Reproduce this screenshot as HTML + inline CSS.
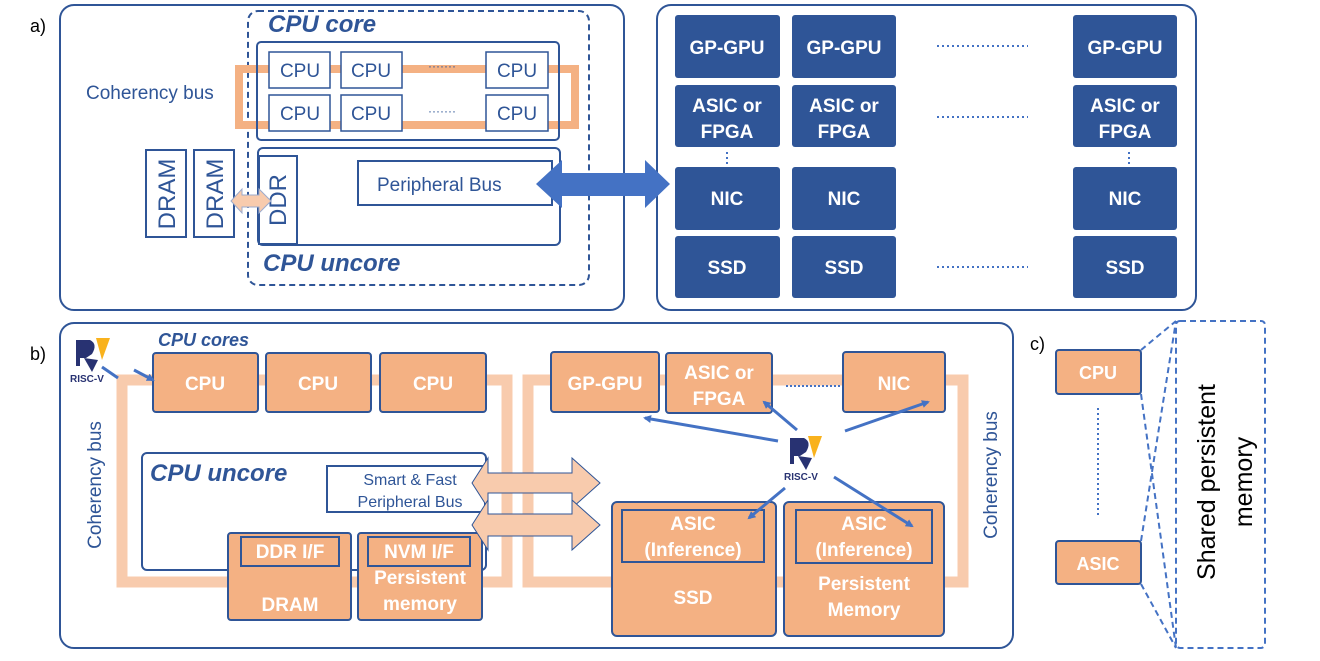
<!DOCTYPE html>
<html><head><meta charset="utf-8"><style>
html,body{margin:0;padding:0;background:#fff;}
svg{display:block;font-family:"Liberation Sans",sans-serif;}
</style></head><body>
<svg width="1320" height="661" viewBox="0 0 1320 661" xmlns="http://www.w3.org/2000/svg">
<defs>
<marker id="ah" markerWidth="8" markerHeight="8" refX="6" refY="4" orient="auto" markerUnits="userSpaceOnUse" viewBox="0 0 8 8"><path d="M0,0 L8,4 L0,8 Z" fill="#4472c4"/></marker>
</defs>
<g fill="none" stroke="#2f5597" stroke-width="2">
<!-- panel a -->
<rect x="60" y="5" width="564" height="305" rx="14"/>
<rect x="657" y="5" width="539" height="305" rx="14"/>
<rect x="248" y="11" width="341" height="274" rx="10" stroke-dasharray="6,4"/>
</g>
<text x="30" y="32" font-size="18" fill="#000">a)</text>
<text x="30" y="360" font-size="18" fill="#000">b)</text>
<text x="1030" y="350" font-size="18" fill="#000">c)</text>
<text x="268" y="32" font-size="24" font-weight="bold" font-style="italic" fill="#2f5597">CPU core</text>
<text x="263" y="271" font-size="24" font-weight="bold" font-style="italic" fill="#2f5597">CPU uncore</text>
<!-- coherency bus a -->
<rect x="239" y="69" width="336" height="56" fill="none" stroke="#f4b183" stroke-width="8"/>
<rect x="257" y="42" width="302" height="98" rx="4" fill="none" stroke="#2f5597" stroke-width="2"/>
<text x="86" y="99" font-size="19" fill="#2f5597">Coherency bus</text>
<g fill="#fff" stroke="#2f5597" stroke-width="1.5">
<rect x="269" y="52" width="61" height="36"/><rect x="341" y="52" width="61" height="36"/><rect x="486" y="52" width="62" height="36"/>
<rect x="269" y="95" width="61" height="36"/><rect x="341" y="95" width="61" height="36"/><rect x="486" y="95" width="62" height="36"/>
</g>
<g font-size="19" fill="#2f5597" text-anchor="middle">
<text x="300" y="77">CPU</text><text x="371" y="77">CPU</text><text x="517" y="77">CPU</text>
<text x="300" y="120">CPU</text><text x="371" y="120">CPU</text><text x="517" y="120">CPU</text>
<text x="442" y="70" font-size="12">·······</text><text x="442" y="115" font-size="12">·······</text>
</g>
<rect x="258" y="148" width="302" height="97" rx="5" fill="none" stroke="#2f5597" stroke-width="2"/>
<rect x="259" y="156" width="38" height="88" fill="#fff" stroke="#2f5597" stroke-width="2"/>
<rect x="146" y="150" width="40" height="87" fill="#fff" stroke="#2f5597" stroke-width="2"/>
<rect x="194" y="150" width="40" height="87" fill="#fff" stroke="#2f5597" stroke-width="2"/>
<g font-size="24" fill="#2f5597" text-anchor="middle">
<text transform="translate(175,194) rotate(-90)">DRAM</text>
<text transform="translate(223,194) rotate(-90)">DRAM</text>
<text transform="translate(286,200) rotate(-90)">DDR</text>
</g>
<rect x="358" y="161" width="194" height="44" fill="#fff" stroke="#2f5597" stroke-width="2"/>
<text x="377" y="191" font-size="19" fill="#2f5597">Peripheral Bus</text>
<path d="M231,201 L242,189 L242,195 L259,195 L259,189 L271,201 L259,213 L259,207 L242,207 L242,213 Z" fill="#f8cbad" stroke="#9dabcc" stroke-width="1"/>
<path d="M536,184 L562,160 L562,173 L645,173 L645,160 L670,184 L645,208 L645,196 L562,196 L562,208 Z" fill="#4472c4"/>
<!-- panel a right grid -->
<g fill="#2f5597">
<rect x="675" y="15" width="105" height="63" rx="3"/><rect x="792" y="15" width="104" height="63" rx="3"/><rect x="1073" y="15" width="104" height="63" rx="3"/>
<rect x="675" y="85" width="105" height="62" rx="3"/><rect x="792" y="85" width="104" height="62" rx="3"/><rect x="1073" y="85" width="104" height="62" rx="3"/>
<rect x="675" y="167" width="105" height="63" rx="3"/><rect x="792" y="167" width="104" height="63" rx="3"/><rect x="1073" y="167" width="104" height="63" rx="3"/>
<rect x="675" y="236" width="105" height="62" rx="3"/><rect x="792" y="236" width="104" height="62" rx="3"/><rect x="1073" y="236" width="104" height="62" rx="3"/>
</g>
<g font-size="19" font-weight="bold" fill="#fff" text-anchor="middle">
<text x="727" y="54">GP-GPU</text><text x="844" y="54">GP-GPU</text><text x="1125" y="54">GP-GPU</text>
<text x="727" y="112">ASIC or</text><text x="844" y="112">ASIC or</text><text x="1125" y="112">ASIC or</text>
<text x="727" y="138">FPGA</text><text x="844" y="138">FPGA</text><text x="1125" y="138">FPGA</text>
<text x="727" y="205">NIC</text><text x="844" y="205">NIC</text><text x="1125" y="205">NIC</text>
<text x="727" y="274">SSD</text><text x="844" y="274">SSD</text><text x="1125" y="274">SSD</text>
</g>
<g stroke="#4472c4" stroke-width="2" stroke-dasharray="2,3">
<line x1="937" y1="46" x2="1028" y2="46"/><line x1="937" y1="117" x2="1028" y2="117"/><line x1="937" y1="267" x2="1028" y2="267"/>
<line x1="727" y1="152" x2="727" y2="164"/><line x1="1129" y1="152" x2="1129" y2="164"/>
</g>
<!-- panel b -->
<rect x="60" y="323" width="953" height="325" rx="14" fill="none" stroke="#2f5597" stroke-width="2"/>
<rect x="122" y="380" width="385" height="202" fill="none" stroke="#f8cbad" stroke-width="11"/>
<rect x="528" y="380" width="435" height="202" fill="none" stroke="#f8cbad" stroke-width="11"/>
<text x="158" y="346" font-size="18" font-weight="bold" font-style="italic" fill="#2f5597">CPU cores</text>
<g fill="#f4b183" stroke="#2f5597" stroke-width="2">
<rect x="153" y="353" width="105" height="59" rx="3"/><rect x="266" y="353" width="105" height="59" rx="3"/><rect x="380" y="353" width="106" height="59" rx="3"/>
</g>
<rect x="142" y="453" width="344" height="117" rx="5" fill="#fff" stroke="#2f5597" stroke-width="2"/>
<text x="150" y="481" font-size="24" font-weight="bold" font-style="italic" fill="#2f5597">CPU uncore</text>
<rect x="327" y="466" width="158" height="46" fill="#fff" stroke="#2f5597" stroke-width="2"/>
<text x="410" y="485" font-size="16" fill="#2f5597" text-anchor="middle">Smart &amp; Fast</text>
<text x="410" y="507" font-size="16" fill="#2f5597" text-anchor="middle">Peripheral Bus</text>
<g fill="#f4b183" stroke="#2f5597" stroke-width="2">
<rect x="228" y="533" width="123" height="87" rx="3"/><rect x="358" y="533" width="124" height="87" rx="3"/>
<rect x="241" y="537" width="98" height="29"/><rect x="368" y="537" width="102" height="29"/>
<rect x="551" y="352" width="108" height="60" rx="3"/><rect x="666" y="353" width="106" height="60" rx="3"/><rect x="843" y="352" width="102" height="60" rx="3"/>
<rect x="612" y="502" width="164" height="134" rx="5"/><rect x="784" y="502" width="160" height="134" rx="5"/>
<rect x="622" y="510" width="142" height="52"/><rect x="796" y="510" width="136" height="53"/>
</g>
<path d="M472,483 L488,458 L488,473 L572,473 L572,458 L600,483 L572,508 L572,493 L488,493 L488,508 Z" fill="#f8cbad" stroke="#2f5597" stroke-width="1"/>
<path d="M472,525 L488,500 L488,514 L572,514 L572,500 L600,525 L572,550 L572,536 L488,536 L488,550 Z" fill="#f8cbad" stroke="#2f5597" stroke-width="1"/>
<g font-size="19" font-weight="bold" fill="#fff" text-anchor="middle">
<text x="205" y="390">CPU</text><text x="318" y="390">CPU</text><text x="433" y="390">CPU</text>
<text x="290" y="558">DDR I/F</text><text x="419" y="558">NVM I/F</text>
<text x="290" y="611">DRAM</text>
<text x="420" y="584">Persistent</text><text x="420" y="610">memory</text>
<text x="605" y="390">GP-GPU</text><text x="719" y="379">ASIC or</text><text x="719" y="405">FPGA</text><text x="894" y="390">NIC</text>
<text x="693" y="530">ASIC</text><text x="693" y="556">(Inference)</text><text x="693" y="604">SSD</text>
<text x="864" y="530">ASIC</text><text x="864" y="556">(Inference)</text>
<text x="864" y="590">Persistent</text><text x="864" y="616">Memory</text>
</g>
<line x1="786" y1="386" x2="840" y2="386" stroke="#4472c4" stroke-width="2" stroke-dasharray="2,2"/>
<g font-size="19" fill="#2f5597" text-anchor="middle">
<text transform="translate(101,485) rotate(-90)">Coherency bus</text>
<text transform="translate(997,475) rotate(-90)">Coherency bus</text>
</g>
<!-- RISC-V logos -->
<g>
<path d="M76,340 L90,340 Q98,344 92,354 L86,358 L80,358 L80,366 L76,366 Z" fill="#283272"/>
<path d="M96,338 L110,338 L102,360 Z" fill="#f9b21d"/>
<path d="M84,358 L92,372 L98,360 Z" fill="#283272"/>
<text x="70" y="382" font-size="10" font-weight="bold" fill="#283272">RISC-V</text>
</g>
<g>
<path d="M790,438 L804,438 Q812,442 806,452 L800,456 L794,456 L794,464 L790,464 Z" fill="#283272"/>
<path d="M808,436 L822,436 L814,458 Z" fill="#f9b21d"/>
<path d="M798,456 L806,470 L812,458 Z" fill="#283272"/>
<text x="784" y="480" font-size="10" font-weight="bold" fill="#283272">RISC-V</text>
</g>
<g stroke="#4472c4" stroke-width="3" marker-end="url(#ah)">
<line x1="102" y1="367" x2="118" y2="378" marker-end="none"/>
<line x1="134" y1="370" x2="153" y2="380"/>
<line x1="778" y1="441" x2="645" y2="418"/>
<line x1="797" y1="430" x2="764" y2="402"/>
<line x1="845" y1="431" x2="928" y2="402"/>
<line x1="785" y1="488" x2="749" y2="518"/>
<line x1="834" y1="477" x2="912" y2="526"/>
</g>
<!-- panel c -->
<rect x="1056" y="350" width="85" height="44" rx="3" fill="#f4b183" stroke="#2f5597" stroke-width="2"/>
<rect x="1056" y="541" width="85" height="43" rx="3" fill="#f4b183" stroke="#2f5597" stroke-width="2"/>
<text x="1098" y="379" font-size="18" font-weight="bold" fill="#fff" text-anchor="middle">CPU</text>
<text x="1098" y="570" font-size="18" font-weight="bold" fill="#fff" text-anchor="middle">ASIC</text>
<line x1="1098" y1="408" x2="1098" y2="518" stroke="#4472c4" stroke-width="2" stroke-dasharray="2,3"/>
<g stroke="#4472c4" stroke-width="2" stroke-dasharray="6,4" fill="none">
<rect x="1176" y="321" width="89" height="327" rx="4"/>
<line x1="1141" y1="350" x2="1176" y2="321"/>
<line x1="1141" y1="394" x2="1176" y2="648"/>
<line x1="1141" y1="541" x2="1176" y2="321"/>
<line x1="1141" y1="584" x2="1176" y2="648"/>
</g>
<g font-size="25" fill="#000" text-anchor="middle">
<text transform="translate(1215,482) rotate(-90)">Shared persistent</text>
<text transform="translate(1252,482) rotate(-90)">memory</text>
</g>
</svg>
</body></html>
